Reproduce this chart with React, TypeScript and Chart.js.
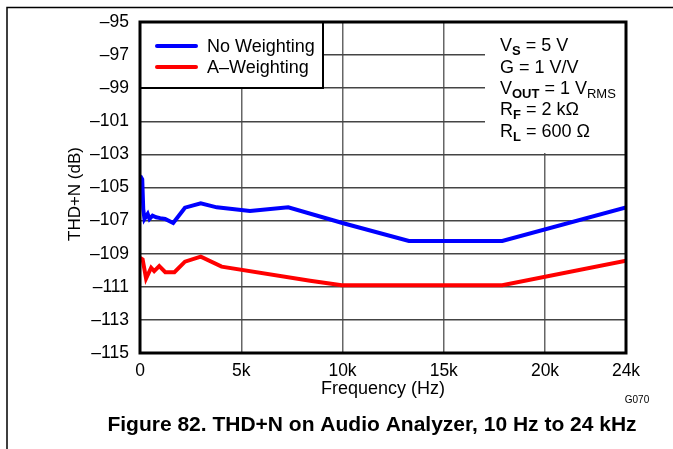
import React, { useEffect, useRef } from 'react';
import { Chart, registerables } from 'chart.js';

Chart.register(...registerables);

// ---- data ----
const freqNoWeighting = [10, 110, 160, 220, 380, 470, 620, 800, 1000, 1240, 1640, 2220, 3000, 3790, 5430, 7320, 10040, 13280, 17890, 24000];
const thdNoWeighting = [-104.3, -104.5, -106.3, -106.9, -106.6, -106.9, -106.7, -106.8, -106.85, -106.9, -107.15, -106.22, -105.95, -106.2, -106.42, -106.2, -107.16, -108.23, -108.23, -106.2];

const freqAWeighting = [10, 130, 300, 550, 700, 950, 1250, 1700, 2220, 3000, 4030, 8400, 9960, 17890, 24000];
const thdAWeighting = [-109.25, -109.35, -110.5, -109.85, -110.05, -109.75, -110.12, -110.12, -109.48, -109.18, -109.78, -110.63, -110.9, -110.9, -109.42];

const seriesLabels = ['No Weighting', 'A\u2013Weighting'];
const seriesColors = ['#0000ff', '#ff0000'];

const xTickValues = [0, 5000, 10000, 15000, 20000, 24000];
const xTickLabels = ['0', '5k', '10k', '15k', '20k', '24k'];
const yMin = -115;
const yMax = -95;
const yStep = 2;

const xTitle = 'Frequency (Hz)';
const yTitle = 'THD+N (dB)';
const figureCode = 'G070';
const caption = 'Figure 82. THD+N on Audio Analyzer, 10 Hz to 24 kHz';

type Seg = { t: string; sub?: boolean; bold?: boolean };
const conditions: Seg[][] = [
  [{ t: 'V' }, { t: 'S', sub: true, bold: true }, { t: ' = 5 V' }],
  [{ t: 'G = 1 V/V' }],
  [{ t: 'V' }, { t: 'OUT', sub: true, bold: true }, { t: ' = 1 V' }, { t: 'RMS', sub: true }],
  [{ t: 'R' }, { t: 'F', sub: true, bold: true }, { t: ' = 2 k\u03a9' }],
  [{ t: 'R' }, { t: 'L', sub: true, bold: true }, { t: ' = 600 \u03a9' }],
];

const FONT = '"Liberation Sans", Arial, sans-serif';

const decorPlugin = {
  id: 'decor',
  afterDraw(chart: any) {
    const ctx: CanvasRenderingContext2D = chart.ctx;
    const { left, top, right, bottom } = chart.chartArea;
    ctx.save();

    // outer frame (top and left lines)
    ctx.strokeStyle = '#000';
    ctx.lineWidth = 1.5;
    ctx.beginPath();
    ctx.moveTo(7, 449);
    ctx.lineTo(7, 7.5);
    ctx.lineTo(673, 7.5);
    ctx.stroke();

    // conditions box (white, no border)
    ctx.fillStyle = '#fff';
    ctx.fillRect(485, top, right - 485, 153 - top);

    // conditions text
    ctx.fillStyle = '#000';
    ctx.textBaseline = 'alphabetic';
    ctx.textAlign = 'left';
    const baseY = [51, 73, 94, 115, 137];
    conditions.forEach((segs, i) => {
      let x = 500;
      segs.forEach((s) => {
        ctx.font = `${s.bold ? 'bold ' : ''}${s.sub ? 13 : 18}px ${FONT}`;
        ctx.fillText(s.t, x, baseY[i] + (s.sub ? 4 : 0));
        x += ctx.measureText(s.t).width;
      });
    });

    // legend box
    const lx0 = left, ly0 = top, lx1 = 323, ly1 = 88;
    ctx.fillStyle = '#fff';
    ctx.fillRect(lx0, ly0, lx1 - lx0, ly1 - ly0);
    ctx.strokeStyle = '#000';
    ctx.lineWidth = 2;
    ctx.strokeRect(lx0, ly0, lx1 - lx0, ly1 - ly0);
    const legY = [46, 67];
    chart.data.datasets.forEach((ds: any, i: number) => {
      ctx.strokeStyle = ds.borderColor;
      ctx.lineWidth = 4;
      ctx.lineCap = 'round';
      ctx.beginPath();
      ctx.moveTo(157, legY[i]);
      ctx.lineTo(196, legY[i]);
      ctx.stroke();
      ctx.fillStyle = '#000';
      ctx.font = `18px ${FONT}`;
      ctx.textBaseline = 'middle';
      ctx.fillText(ds.label, 207, legY[i] + 1);
    });
    ctx.lineCap = 'butt';

    // plot border
    ctx.strokeStyle = '#000';
    ctx.lineWidth = 3;
    ctx.strokeRect(left, top, right - left, bottom - top);

    // axis titles
    ctx.fillStyle = '#000';
    ctx.font = `18px ${FONT}`;
    ctx.textAlign = 'center';
    ctx.textBaseline = 'middle';
    ctx.fillText(xTitle, (left + right) / 2, 389);
    ctx.save();
    ctx.translate(75, 194);
    ctx.rotate(-Math.PI / 2);
    ctx.font = `17px ${FONT}`;
    ctx.fillText(yTitle, 0, 0);
    ctx.restore();

    // figure code
    ctx.font = `10px ${FONT}`;
    ctx.fillText(figureCode, 637, 400);

    // caption
    ctx.font = `bold 21px ${FONT}`;
    ctx.fillText(caption, 372, 425);

    ctx.restore();
  },
};

export default function App() {
  const ref = useRef<HTMLCanvasElement | null>(null);
  useEffect(() => {
    if (!ref.current) return;
    const chart = new Chart(ref.current, {
      type: 'line',
      data: {
        datasets: [
          {
            label: seriesLabels[0],
            data: freqNoWeighting.map((f, i) => ({ x: f, y: thdNoWeighting[i] })),
            borderColor: seriesColors[0],
            borderWidth: 4,
            pointRadius: 0,
            tension: 0,
            fill: false,
          },
          {
            label: seriesLabels[1],
            data: freqAWeighting.map((f, i) => ({ x: f, y: thdAWeighting[i] })),
            borderColor: seriesColors[1],
            borderWidth: 4,
            pointRadius: 0,
            tension: 0,
            fill: false,
          },
        ],
      },
      options: {
        responsive: false,
        animation: false,
        layout: { padding: { left: 0, top: 22, right: 47, bottom: 0 } },
        plugins: {
          legend: { display: false },
          tooltip: { enabled: false },
          title: { display: false },
        },
        scales: {
          x: {
            type: 'linear',
            min: 0,
            max: 24000,
            afterBuildTicks: (scale: any) => {
              scale.ticks = xTickValues.map((v) => ({ value: v }));
            },
            afterFit: (scale: any) => {
              scale.height = 96;
            },
            ticks: {
              padding: 8,
              maxRotation: 0,
              autoSkip: false,
              color: '#000',
              font: { family: FONT, size: 17.5 },
              callback: (v: any) => {
                const idx = xTickValues.indexOf(Number(v));
                return idx >= 0 ? xTickLabels[idx] : '';
              },
            },
            grid: {
              drawTicks: false,
              color: (c: any) =>
                c.tick && (c.tick.value === 0 || c.tick.value === 24000) ? 'rgba(0,0,0,0)' : '#666',
              lineWidth: 1.5,
            },
            border: { display: false },
          },
          y: {
            type: 'linear',
            min: yMin,
            max: yMax,
            afterFit: (scale: any) => {
              scale.width = 140;
            },
            ticks: {
              stepSize: yStep,
              padding: 11,
              color: '#000',
              font: { family: FONT, size: 17.5 },
              callback: (v: any) => '\u2013' + Math.abs(Number(v)),
            },
            grid: {
              drawTicks: false,
              color: (c: any) =>
                c.tick && (c.tick.value === yMin || c.tick.value === yMax) ? 'rgba(0,0,0,0)' : '#444',
              lineWidth: 1.5,
            },
            border: { display: false },
          },
        },
      },
      plugins: [decorPlugin],
    } as any);
    return () => chart.destroy();
  }, []);

  return (
    <div style={{ position: 'absolute', left: 0, top: 0, width: 673, height: 449, background: '#fff' }}>
      <canvas ref={ref} width={673} height={449} style={{ display: 'block', width: 673, height: 449 }} />
    </div>
  );
}
